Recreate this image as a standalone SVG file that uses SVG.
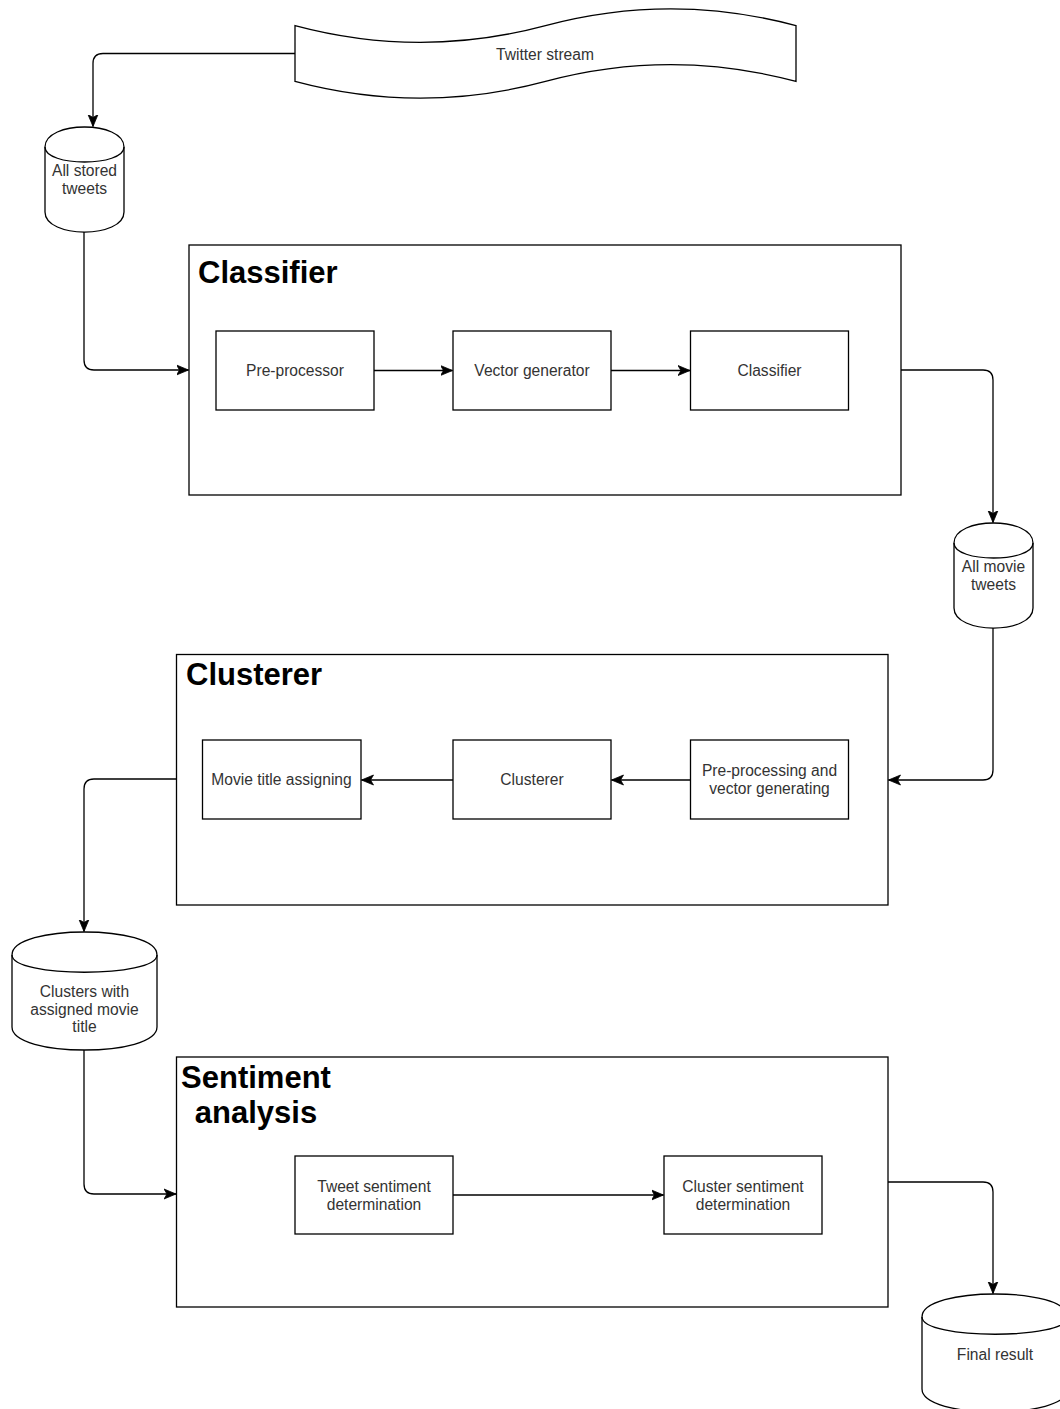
<svg xmlns="http://www.w3.org/2000/svg" width="1060" height="1409" viewBox="0 0 1060 1409">
<defs>
<style>
.shape{fill:#fff;stroke:#000;stroke-width:1.3}
.cont{fill:#fff;stroke:#000;stroke-width:1.3}
.edge{fill:none;stroke:#000;stroke-width:1.3}
.lbl{font-family:"Liberation Sans",Arial,sans-serif;font-size:15.6px;fill:#333;text-anchor:middle}
.title{font-family:"Liberation Sans",Arial,sans-serif;font-size:31px;font-weight:bold;fill:#000}
</style>
<marker id="arr" markerUnits="userSpaceOnUse" markerWidth="14" markerHeight="12" refX="12" refY="6" orient="auto">
<path d="M0,1 L12,6 L0,11 L3,6 Z" fill="#000" stroke="#000" stroke-width="0.8"/>
</marker>
</defs>
<rect width="1060" height="1409" fill="#fff"/>

<g id="twitter-stream">
<path class="shape" d="M295,25.6 Q420.25,59.1 545.5,25.6 Q670.75,-7.9 796,25.6 L796,81.4 Q670.75,47.9 545.5,81.4 Q420.25,114.9 295,81.4 Z"/>
<text class="lbl" x="545" y="59.5">Twitter stream</text>
</g>

<g id="all-stored-tweets">
<path class="shape" d="M45,147 C45,120.3 124,120.3 124,147 L124,212 C124,238.7 45,238.7 45,212 Z"/>
<path class="edge" d="M45,147 C45,167 124,167 124,147"/>
<text class="lbl" x="84.5" y="176">All stored</text>
<text class="lbl" x="84.5" y="194">tweets</text>
</g>

<g id="classifier-group">
<rect class="cont" x="189" y="245" width="712" height="250"/>
<text class="title" x="198" y="283">Classifier</text>
</g>
<g id="pre-processor">
<rect class="shape" x="216" y="331" width="158" height="79"/>
<text class="lbl" x="295" y="376">Pre-processor</text>
</g>
<g id="vector-generator">
<rect class="shape" x="453" y="331" width="158" height="79"/>
<text class="lbl" x="532" y="376">Vector generator</text>
</g>
<g id="classifier">
<rect class="shape" x="690.5" y="331" width="158" height="79"/>
<text class="lbl" x="769.5" y="376">Classifier</text>
</g>

<g id="all-movie-tweets">
<path class="shape" d="M954,543 C954,516.3 1033,516.3 1033,543 L1033,608 C1033,634.7 954,634.7 954,608 Z"/>
<path class="edge" d="M954,543 C954,563 1033,563 1033,543"/>
<text class="lbl" x="993.5" y="572">All movie</text>
<text class="lbl" x="993.5" y="590">tweets</text>
</g>

<g id="clusterer-group">
<rect class="cont" x="176.5" y="654.5" width="711.5" height="250.5"/>
<text class="title" x="186" y="685">Clusterer</text>
</g>
<g id="movie-title-assigning">
<rect class="shape" x="202.5" y="740" width="158.5" height="79"/>
<text class="lbl" x="281.5" y="785">Movie title assigning</text>
</g>
<g id="clusterer">
<rect class="shape" x="453" y="740" width="158" height="79"/>
<text class="lbl" x="532" y="785">Clusterer</text>
</g>
<g id="pre-processing-vector">
<rect class="shape" x="690.5" y="740" width="158" height="79"/>
<text class="lbl" x="769.5" y="776">Pre-processing and</text>
<text class="lbl" x="769.5" y="794">vector generating</text>
</g>

<g id="clusters-with-title">
<path class="shape" d="M12,955 C12,924.3 157,924.3 157,955 L157,1027 C157,1057.7 12,1057.7 12,1027 Z"/>
<path class="edge" d="M12,955 C12,978 157,978 157,955"/>
<text class="lbl" x="84.5" y="997">Clusters with</text>
<text class="lbl" x="84.5" y="1014.5">assigned movie</text>
<text class="lbl" x="84.5" y="1032">title</text>
</g>

<g id="sentiment-group">
<rect class="cont" x="176.5" y="1057" width="711.5" height="250"/>
<text class="title" x="256" y="1088" text-anchor="middle">Sentiment</text>
<text class="title" x="256" y="1123" text-anchor="middle">analysis</text>
</g>
<g id="tweet-sentiment">
<rect class="shape" x="295" y="1156" width="158" height="78"/>
<text class="lbl" x="374" y="1191.5">Tweet sentiment</text>
<text class="lbl" x="374" y="1209.5">determination</text>
</g>
<g id="cluster-sentiment">
<rect class="shape" x="664" y="1156" width="158" height="78"/>
<text class="lbl" x="743" y="1191.5">Cluster sentiment</text>
<text class="lbl" x="743" y="1209.5">determination</text>
</g>

<g id="final-result">
<path class="shape" d="M922,1317 C922,1286.3 1068,1286.3 1068,1317 L1068,1389 C1068,1419.7 922,1419.7 922,1389 Z"/>
<path class="edge" d="M922,1317 C922,1340 1068,1340 1068,1317"/>
<text class="lbl" x="995" y="1360">Final result</text>
</g>

<g id="connectors">
<path class="edge" d="M295,53.5 H103 Q93,53.5 93,63.5 V126.5" marker-end="url(#arr)"/>
<path class="edge" d="M84,232 V360 Q84,370 94,370 H188.5" marker-end="url(#arr)"/>
<path class="edge" d="M374,370.5 H452.5" marker-end="url(#arr)"/>
<path class="edge" d="M611,370.5 H690" marker-end="url(#arr)"/>
<path class="edge" d="M901,370 H983 Q993,370 993,380 V522.5" marker-end="url(#arr)"/>
<path class="edge" d="M993,628 V770 Q993,780 983,780 H888.5" marker-end="url(#arr)"/>
<path class="edge" d="M690,780 H611.5" marker-end="url(#arr)"/>
<path class="edge" d="M453,780 H361.5" marker-end="url(#arr)"/>
<path class="edge" d="M176.5,779 H94 Q84,779 84,789 V931.5" marker-end="url(#arr)"/>
<path class="edge" d="M84,1050 V1184 Q84,1194 94,1194 H176" marker-end="url(#arr)"/>
<path class="edge" d="M453,1195 H663.5" marker-end="url(#arr)"/>
<path class="edge" d="M888,1182 H983 Q993,1182 993,1192 V1293.5" marker-end="url(#arr)"/>
</g>
</svg>
